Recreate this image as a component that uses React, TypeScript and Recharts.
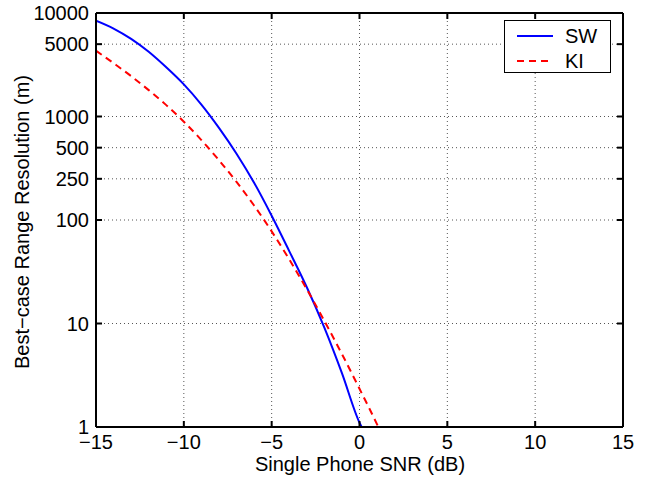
import React from "react";
import {
  LineChart,
  Line,
  XAxis,
  YAxis,
  CartesianGrid,
  Label,
} from "recharts";

// SNR (dB) vs best-case range resolution (m)
const snrSW = [-15, -14, -13, -12, -11, -10, -9, -8, -7, -6, -5, -4, -3, -2, -1, 0, 0.12];
const rangeSW = [8433, 7079, 5623, 4217, 2985, 2042, 1303, 776, 437, 229, 110, 50.1, 22.4, 9.12, 3.31, 1.1, 1];

const snrKI = [-15, -14, -13, -12, -11, -10, -9, -8, -7, -6, -5, -4, -3, -2, -1, 0, 1, 1.07];
const rangeKI = [4325, 3273, 2455, 1799, 1288, 891, 592, 378, 233, 138, 77.6, 41.7, 21.4, 10.6, 5.07, 2.34, 1.06, 1];

const xTicks = [-15, -10, -5, 0, 5, 10, 15];
const yTicks = [1, 10, 100, 250, 500, 1000, 5000, 10000];

const swData = snrSW.map((snr, i) => ({ snr, value: rangeSW[i] }));
const kiData = snrKI.map((snr, i) => ({ snr, value: rangeKI[i] }));

const FONT = "'Liberation Sans', Arial, Helvetica, sans-serif";
const tickStyle = { fill: "#000", fontSize: 20, fontFamily: FONT };

const minus = (v: number) => String(v).replace("-", "\u2212");

const App = () => {
  return (
    <div style={{ position: "fixed", left: 0, top: 0, width: 650, height: 477, background: "#fff" }}>
      <LineChart
        width={650}
        height={477}
        margin={{ top: 12, right: 26, left: 0, bottom: 0 }}
      >
        <CartesianGrid
          xAxisId="b"
          yAxisId="l"
          stroke="#555"
          strokeDasharray="1 3"
          horizontalValues={yTicks}
          verticalValues={xTicks}
        />
        <XAxis
          xAxisId="b"
          dataKey="snr"
          type="number"
          domain={[-15, 15]}
          ticks={xTicks}
          allowDataOverflow
          height={50}
          stroke="#000"
          strokeWidth={2}
          tick={tickStyle}
          tickSize={-6}
          tickMargin={14}
          tickFormatter={minus}
        >
          <Label
            content={() => (
              <text x={360} y={471} textAnchor="middle" fontSize={20} fontFamily={FONT} fill="#000">
                Single Phone SNR (dB)
              </text>
            )}
          />
        </XAxis>
        <XAxis
          xAxisId="t"
          orientation="top"
          dataKey="snr"
          type="number"
          domain={[-15, 15]}
          ticks={xTicks}
          allowDataOverflow
          height={1}
          stroke="#000"
          strokeWidth={2}
          tickSize={-6}
          tickFormatter={() => ""}
        />
        <YAxis
          yAxisId="l"
          dataKey="value"
          scale="log"
          domain={[1, 10000]}
          ticks={yTicks}
          allowDataOverflow
          width={96}
          stroke="#000"
          strokeWidth={2}
          tick={tickStyle}
          tickSize={-6}
          tickMargin={13}
          interval={0}
        >
          <Label
            content={() => (
              <text
                x={29}
                y={222}
                transform="rotate(-90 29 222)"
                textAnchor="middle"
                fontSize={20}
                fontFamily={FONT}
                fill="#000"
              >
                Best{"\u2212"}case Range Resolution (m)
              </text>
            )}
          />
        </YAxis>
        <YAxis
          yAxisId="r"
          orientation="right"
          dataKey="value"
          scale="log"
          domain={[1, 10000]}
          ticks={yTicks}
          allowDataOverflow
          width={1}
          stroke="#000"
          strokeWidth={2}
          tickSize={-6}
          interval={0}
          tickFormatter={() => ""}
        />
        {/* invisible series so the mirrored frame axes get drawn */}
        <Line
          xAxisId="t"
          yAxisId="r"
          data={swData}
          dataKey="value"
          stroke="none"
          dot={false}
          legendType="none"
          isAnimationActive={false}
        />
        <Line
          xAxisId="b"
          yAxisId="l"
          data={swData}
          dataKey="value"
          name="SW"
          stroke="#0000ff"
          strokeWidth={2}
          dot={false}
          type="monotone"
          isAnimationActive={false}
        />
        <Line
          xAxisId="b"
          yAxisId="l"
          data={kiData}
          dataKey="value"
          name="KI"
          stroke="#ff0000"
          strokeWidth={2}
          strokeDasharray="7 5"
          dot={false}
          type="monotone"
          isAnimationActive={false}
        />
      </LineChart>
      <div
        style={{
          position: "absolute",
          left: 504,
          top: 20,
          width: 105,
          height: 51,
          border: "1.5px solid #000",
          background: "#fff",
          fontFamily: FONT,
          fontSize: 20,
        }}
      >
        <svg width={105} height={51} style={{ position: "absolute", left: 0, top: 0 }}>
          <line x1={12} x2={48} y1={15} y2={15} stroke="#0000ff" strokeWidth={2} />
          <line x1={12} x2={48} y1={40} y2={40} stroke="#ff0000" strokeWidth={2} strokeDasharray="7 5" />
          <text x={60} y={22} fontSize={20} fontFamily={FONT} fill="#000">SW</text>
          <text x={60} y={47} fontSize={20} fontFamily={FONT} fill="#000">KI</text>
        </svg>
      </div>
    </div>
  );
};

export default App;
